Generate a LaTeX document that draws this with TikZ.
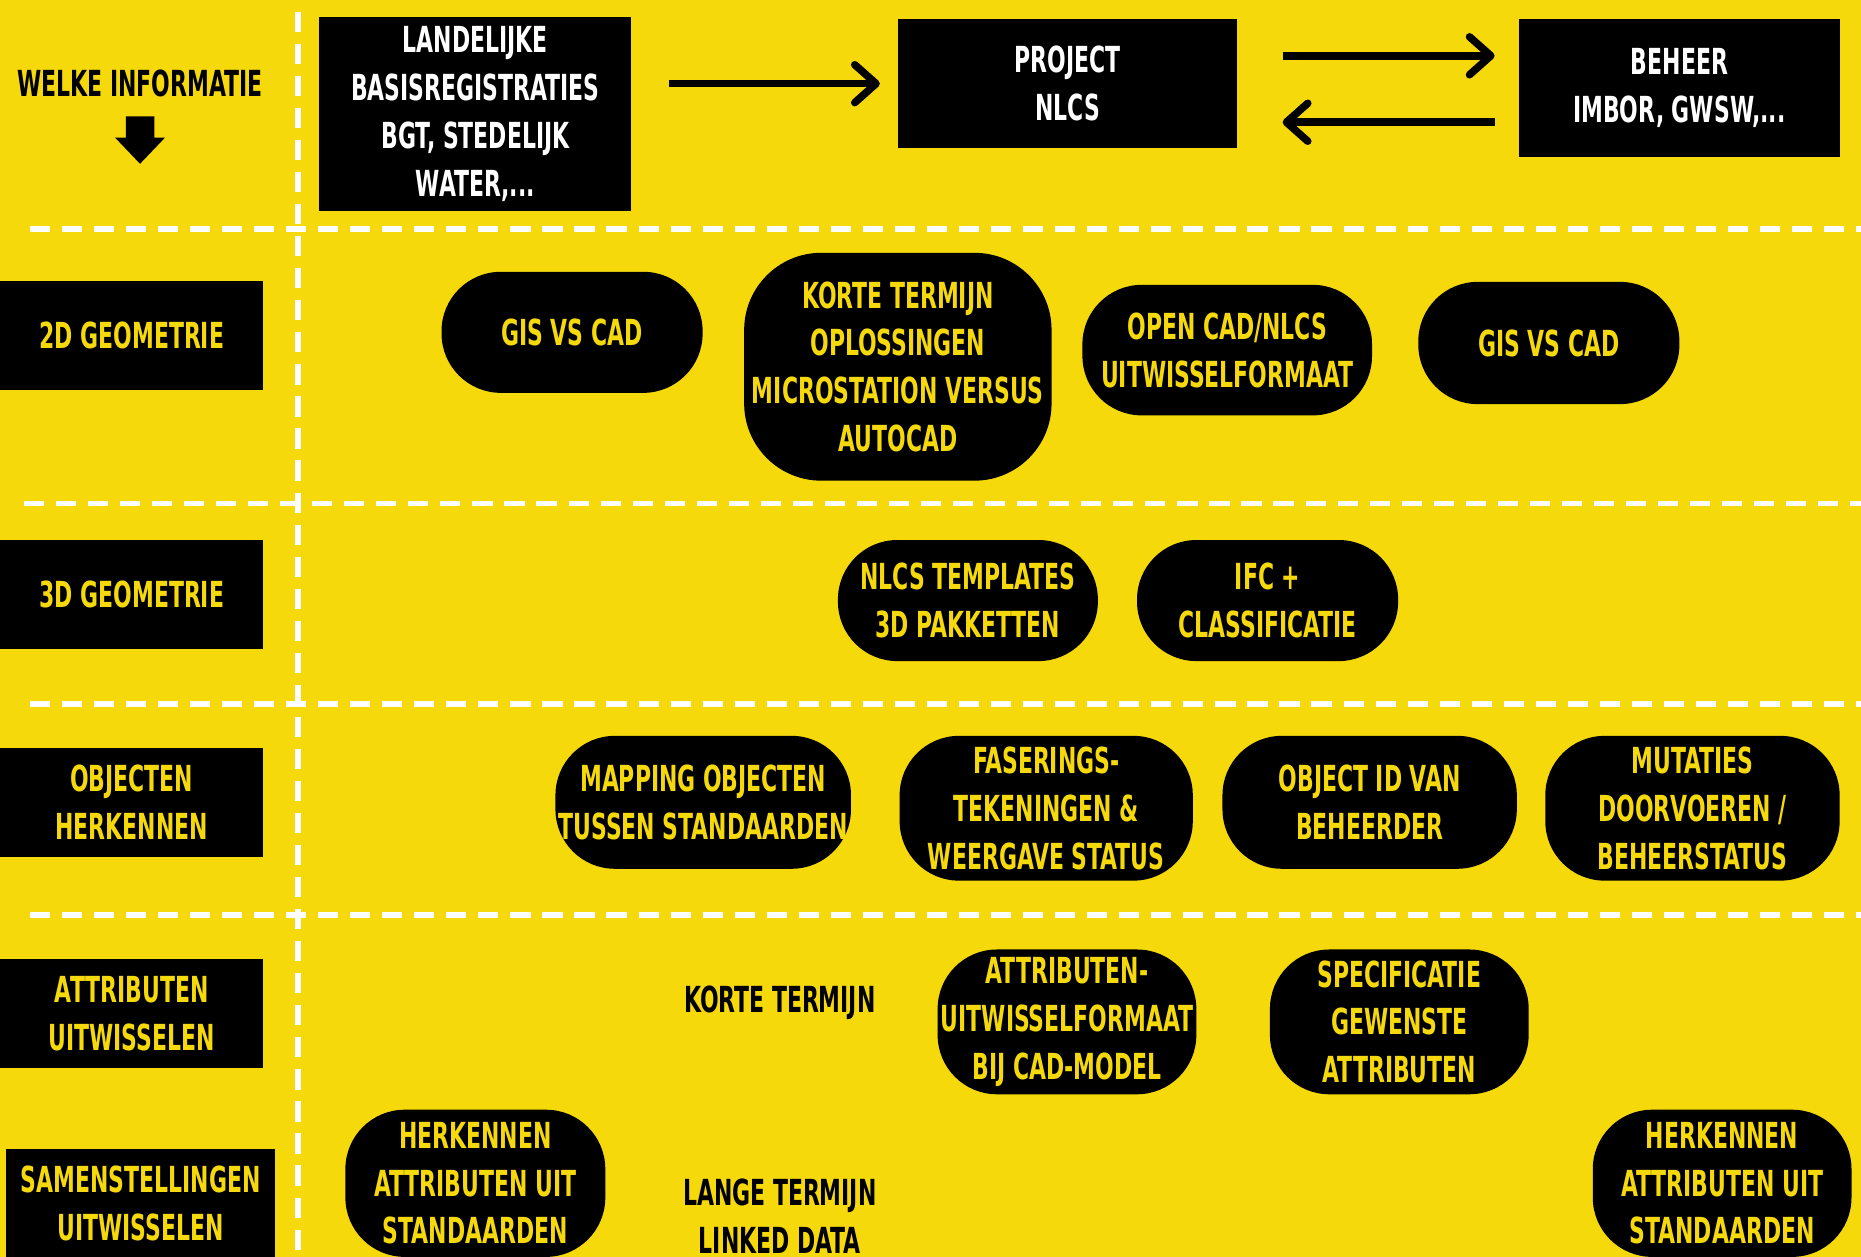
\documentclass[tikz,border=0pt]{standalone}
\usepackage{fontspec}
\setmainfont{DejaVu Sans Condensed}[FakeStretch=0.68]
\usetikzlibrary{arrows.meta}
\definecolor{posteryellow}{RGB}{245,217,11}

\begin{document}
\begin{tikzpicture}
[x=0.1mm, y=-0.1mm,
  every node/.style={font=\fontsize{8.6}{11.45}\selectfont\bfseries, align=center, inner sep=0pt},
  topbox/.style={fill=black, text=white},
  rowlabel/.style={fill=black, text=posteryellow, minimum width=22.2mm, minimum height=9.2mm},
  pill/.style={fill=black, text=posteryellow, rounded corners=5mm},
  flow/.style={line width=1.8pt, -{Straight Barb[length=1.8mm, width=3.2mm, round]}},
  separator/.style={white, line width=1.3pt, dash pattern=on 1.7mm off 1mm}]
  \fill[posteryellow] (0,0) rectangle (1568,1059);
  \useasboundingbox (0,0) rectangle (1568,1059);

  % separators
  \draw[separator] (251,10) -- (251,1059);
  \draw[separator] (25,193) -- (1568,193);
  \draw[separator] (20,424) -- (1568,424);
  \draw[separator] (25,593) -- (1568,593);
  \draw[separator] (25,771) -- (1568,771);

  % top row
  \node (info) at (118,70) {WELKE INFORMATIE};
  \fill (106,98) -- (130,98) -- (130,116) -- (139,116) -- (118,138) -- (97,116) -- (106,116) -- cycle;
  \node[topbox, minimum width=26.3mm, minimum height=16.4mm] (landelijk) at (400.5,96)
    {LANDELIJKE\\BASISREGISTRATIES\\BGT, STEDELIJK\\WATER,...};
  \node[topbox, minimum width=28.5mm, minimum height=10.9mm] (project) at (899.5,70.5) {PROJECT\\NLCS};
  \node[topbox, minimum width=27mm, minimum height=11.6mm] (beheer) at (1415,74) {BEHEER\\IMBOR, GWSW,...};
  \draw[flow, shorten <=3.1mm, shorten >=1.5mm] (landelijk.east |- project.west) -- (project.west);
  \draw[flow, shorten <=3.8mm, shorten >=2mm] ([yshift=2.35mm]project.east) -- ([yshift=2.35mm]project.east -| beheer.west);
  \draw[flow, shorten <=2mm, shorten >=3.8mm] ([yshift=-3.25mm]project.east -| beheer.west) -- ([yshift=-3.25mm]project.east);

  % 2D geometrie
  \node[rowlabel] (geo2d) at (111,283) {2D GEOMETRIE};
  \node[pill, minimum width=22mm, minimum height=10.2mm] (gisa) at (482,280) {GIS VS CAD};
  \node[pill, rounded corners=6.5mm, minimum width=25.9mm, minimum height=19.2mm] (korteopl) at (756.5,309)
    {KORTE TERMIJN\\OPLOSSINGEN\\MICROSTATION VERSUS\\AUTOCAD};
  \node[pill, minimum width=24.4mm, minimum height=11mm] (opencad) at (1034,295) {OPEN CAD/NLCS\\UITWISSELFORMAAT};
  \node[pill, minimum width=22mm, minimum height=10.3mm] (gisb) at (1305,289) {GIS VS CAD};

  % 3D geometrie
  \node[rowlabel] (geo3d) at (111,501) {3D GEOMETRIE};
  \node[pill, minimum width=21.9mm, minimum height=10.2mm] (templates) at (815.5,506) {NLCS TEMPLATES\\3D PAKKETTEN};
  \node[pill, minimum width=22mm, minimum height=10.2mm] (ifc) at (1068,506) {IFC +\\CLASSIFICATIE};

  % objecten herkennen
  \node[rowlabel] (objecten) at (111,676) {OBJECTEN\\HERKENNEN};
  \node[pill, minimum width=24.9mm, minimum height=11.2mm] (mapping) at (592.5,676) {MAPPING OBJECTEN\\TUSSEN STANDAARDEN};
  \node[pill, minimum width=24.7mm, minimum height=12.2mm] (fasering) at (881.5,681)
    {FASERINGS-\\TEKENINGEN \&\\WEERGAVE STATUS};
  \node[pill, minimum width=24.8mm, minimum height=11.2mm] (objid) at (1154,676) {OBJECT ID VAN\\BEHEERDER};
  \node[pill, minimum width=24.8mm, minimum height=12.2mm] (mutaties) at (1426,681)
    {MUTATIES\\DOORVOEREN /\\BEHEERSTATUS};

  % attributen uitwisselen
  \node[rowlabel] (attributen) at (111,854) {ATTRIBUTEN\\UITWISSELEN};
  \node (kort) at (657,845) {KORTE TERMIJN};
  \node[pill, minimum width=21.8mm, minimum height=12.2mm] (attrformaat) at (899,861)
    {ATTRIBUTEN-\\UITWISSELFORMAAT\\BIJ CAD-MODEL};
  \node[pill, minimum width=21.8mm, minimum height=12.2mm] (specificatie) at (1179,861)
    {SPECIFICATIE\\GEWENSTE\\ATTRIBUTEN};

  % samenstellingen uitwisselen
  \node[rowlabel, minimum width=22.7mm] (samenstellingen) at (118.5,1014) {SAMENSTELLINGEN\\UITWISSELEN};
  \node[pill, minimum width=21.9mm, minimum height=12.4mm] (herkennena) at (400.5,997)
    {HERKENNEN\\ATTRIBUTEN UIT\\STANDAARDEN};
  \node (lang) at (657,1025) {LANGE TERMIJN\\LINKED DATA};
  \node[pill, minimum width=21.8mm, minimum height=12.4mm] (herkennenb) at (1451,997)
    {HERKENNEN\\ATTRIBUTEN UIT\\STANDAARDEN};
\end{tikzpicture}
\end{document}
